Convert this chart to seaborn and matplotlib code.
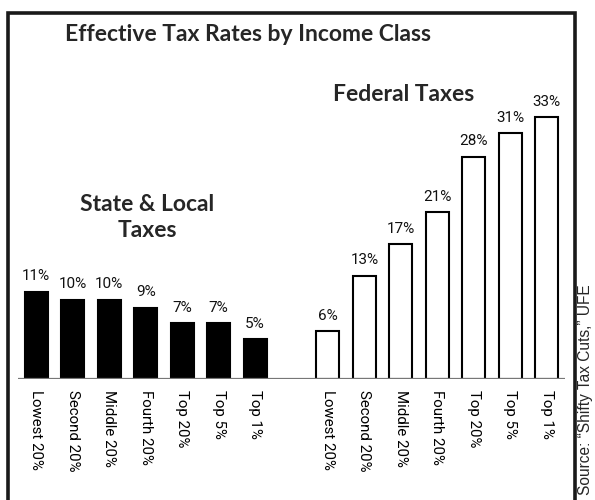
import matplotlib
matplotlib.use("Agg")
import matplotlib.pyplot as plt
from matplotlib.patches import Rectangle
import pandas as pd
import seaborn as sns

# Income classes and effective tax rates (%)
classes = ["Lowest 20%", "Second 20%", "Middle 20%", "Fourth 20%", "Top 20%", "Top 5%", "Top 1%"]
state_local = [11, 10, 10, 9, 7, 7, 5]
federal = [6, 13, 17, 21, 28, 31, 33]

sns.set_theme(style="white")
plt.rcParams["font.family"] = ["Roboto", "DejaVu Sans"]

# one slot per bar, with an empty slot between the two groups
state_keys = [f"s{i}" for i in range(len(classes))]
fed_keys = [f"f{i}" for i in range(len(classes))]
order = state_keys + ["gap"] + fed_keys

df = pd.DataFrame({
    "slot": state_keys + fed_keys,
    "rate": state_local + federal,
    "group": ["State & Local"] * len(classes) + ["Federal"] * len(classes),
})

fig = plt.figure(figsize=(5.95, 5.0), dpi=100)
ax = fig.add_axes([18 / 595, 121 / 500, 547 / 595, 317.2 / 500])

sns.barplot(data=df, x="slot", y="rate", hue="group", order=order,
            palette={"State & Local": "black", "Federal": "white"},
            dodge=False, width=0.63, saturation=1, edgecolor="black",
            linewidth=1.5, legend=False, ax=ax)

ax.set_ylim(0, 40)
ax.axhline(0, color="#777777", lw=1.6, zorder=5)

# value labels above every bar
for keys, vals in ((state_keys, state_local), (fed_keys, federal)):
    for k, v in zip(keys, vals):
        ax.annotate(f"{v}%", (order.index(k), v), xytext=(0, 8.3),
                    textcoords="offset points", ha="center", va="baseline",
                    fontsize=11, color="#111111")

ticks = [order.index(k) for k in state_keys + fed_keys]
ax.set_xticks(ticks)
ax.set_xticklabels(classes + classes, rotation=270, fontsize=10.8, color="black")
ax.tick_params(axis="x", length=0, pad=8)
ax.set_yticks([])
ax.set_xlabel("")
ax.set_ylabel("")
for s in ax.spines.values():
    s.set_visible(False)

bold = ["Lato", "DejaVu Sans"]
fig.text(248 / 595, 1 - 41 / 500, "Effective Tax Rates by Income Class",
         ha="center", va="baseline", fontsize=16.5, fontweight="bold", family=bold)
fig.text(404 / 595, 1 - 101 / 500, "Federal Taxes",
         ha="center", va="baseline", fontsize=16.5, fontweight="bold", family=bold)
fig.text(147 / 595, 1 - 211 / 500, "State & Local",
         ha="center", va="baseline", fontsize=16.5, fontweight="bold", family=bold)
fig.text(147 / 595, 1 - 237 / 500, "Taxes",
         ha="center", va="baseline", fontsize=16.5, fontweight="bold", family=bold)

# outer frame, open past the bottom edge
fig.add_artist(Rectangle((8 / 595, -0.05), (575 - 8) / 595, 1.05 - 13.5 / 500,
                         transform=fig.transFigure, fill=False,
                         edgecolor="#1a1a1a", linewidth=2.6))

fig.text(585.5 / 595, 1 - 284 / 500, "Source: \u201cShifty Tax Cuts,\u201d UFE",
         rotation=90, ha="center", va="top", fontsize=11.2,
         family=["Liberation Sans", "DejaVu Sans"])

fig.savefig("out.png", dpi=100)
